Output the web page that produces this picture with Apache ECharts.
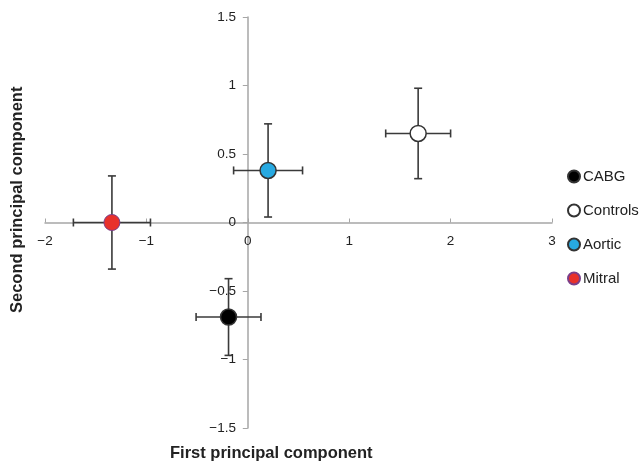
<!DOCTYPE html>
<html>
<head>
<meta charset="utf-8">
<script src="https://cdn.jsdelivr.net/npm/echarts@6/dist/echarts.min.js"></script>
<style>
  html, body { margin: 0; padding: 0; background: #fff; }
  #main { width: 642px; height: 465px; }
</style>
</head>
<body>
<div id="main"></div>
<script>
// group means on the first two principal components, with error half-widths
const groups = ['CABG', 'Controls', 'Aortic', 'Mitral'];
const pc1 = [-0.19, 1.68, 0.20, -1.34];
const pc2 = [-0.69, 0.65, 0.38, 0.0];
const pc1Err = [0.32, 0.32, 0.34, 0.38];
const pc2Err = [0.28, 0.33, 0.34, 0.34];
const fills = ['#000000', '#ffffff', '#27a9e1', '#e8312b'];

const minus = v => String(v).replace('-', '\u2212');
const barColor = '#3a3a3a';
const font = 'Liberation Sans, Arial, sans-serif';

var chart = echarts.init(document.getElementById('main'));

var errData = groups.map((g, i) => [pc1[i], pc2[i], pc1Err[i], pc2Err[i]]);

function renderErr(params, api) {
  var x = api.value(0), y = api.value(1), ex = api.value(2), ey = api.value(3);
  var l = api.coord([x - ex, y]), r = api.coord([x + ex, y]);
  var t = api.coord([x, y + ey]), b = api.coord([x, y - ey]);
  var cap = 4;
  var st = { stroke: barColor, lineWidth: 1.6 };
  return {
    type: 'group',
    children: [
      { type: 'line', shape: { x1: l[0], y1: l[1], x2: r[0], y2: r[1] }, style: st },
      { type: 'line', shape: { x1: l[0], y1: l[1] - cap, x2: l[0], y2: l[1] + cap }, style: st },
      { type: 'line', shape: { x1: r[0], y1: r[1] - cap, x2: r[0], y2: r[1] + cap }, style: st },
      { type: 'line', shape: { x1: t[0], y1: t[1], x2: b[0], y2: b[1] }, style: st },
      { type: 'line', shape: { x1: t[0] - cap, y1: t[1], x2: t[0] + cap, y2: t[1] }, style: st },
      { type: 'line', shape: { x1: b[0] - cap, y1: b[1], x2: b[0] + cap, y2: b[1] }, style: st }
    ]
  };
}

var series = [{
  type: 'custom',
  renderItem: renderErr,
  data: errData,
  z: 1,
  silent: true
}];
groups.forEach((g, i) => {
  series.push({
    name: g,
    type: 'scatter',
    symbol: 'circle',
    symbolSize: 16,
    data: [[pc1[i], pc2[i]]],
    z: 5,
    itemStyle: { color: fills[i], borderColor: i === 3 ? '#7a3f8a' : '#333', borderWidth: i === 3 ? 1 : 1.5, opacity: 1 }
  });
});

var hidden = { show: false };
var lineStyle = { color: '#a6a6a6', width: 1.5 };

chart.setOption({
  animation: false,
  textStyle: { fontFamily: font },
  // grid 0: the plot; grid 1 ends on y = 0 to carry x tick labels; grid 2 starts on x = 0 to carry y tick labels
  grid: [
    { left: 45, right: 90, top: 17, bottom: 37 },
    { left: 45, right: 90, top: 17, height: 205 },
    { left: 248, right: 90, top: 17, bottom: 37 }
  ],
  legend: {
    orient: 'vertical',
    left: 562,
    top: 164,
    itemGap: 19,
    itemWidth: 12,
    itemHeight: 12,
    icon: 'circle',
    data: groups,
    textStyle: { fontSize: 15, color: '#222', padding: [0, 0, 0, -2] }
  },
  xAxis: [
    {
      type: 'value', gridIndex: 0,
      min: -2, max: 3, interval: 1,
      axisLine: { onZero: true, lineStyle: lineStyle },
      axisTick: { show: true, inside: true, length: 4, lineStyle: { color: '#a6a6a6' } },
      axisLabel: hidden,
      splitLine: hidden
    },
    {
      type: 'value', gridIndex: 1, position: 'bottom',
      min: -2, max: 3, interval: 1,
      axisLine: hidden, axisTick: hidden, splitLine: hidden,
      axisLabel: { margin: 12, fontSize: 13.5, color: '#222', formatter: minus }
    },
    {
      type: 'value', gridIndex: 2, min: 0, max: 1, show: false
    }
  ],
  yAxis: [
    {
      type: 'value', gridIndex: 0,
      min: -1.5, max: 1.5, interval: 0.5,
      axisLine: { onZero: true, lineStyle: lineStyle },
      axisTick: { show: true, length: 5, lineStyle: { color: '#a6a6a6' } },
      axisLabel: hidden,
      splitLine: hidden
    },
    {
      type: 'value', gridIndex: 1, min: 0, max: 1, show: false
    },
    {
      type: 'value', gridIndex: 2, position: 'left',
      min: -1.5, max: 1.5, interval: 0.5,
      axisLine: hidden, axisTick: hidden, splitLine: hidden,
      axisLabel: { margin: 12, fontSize: 13.5, color: '#222', formatter: minus }
    }
  ],
  graphic: [
    {
      type: 'text', left: 170, top: 445,
      style: { text: 'First principal component', font: 'bold 16.5px ' + font, fill: '#222' }
    },
    {
      type: 'text', x: 9, y: 313, rotation: Math.PI / 2,
      style: { text: 'Second principal component', font: 'bold 16.5px ' + font, fill: '#222' }
    }
  ],
  series: series
});
</script>
</body>
</html>
